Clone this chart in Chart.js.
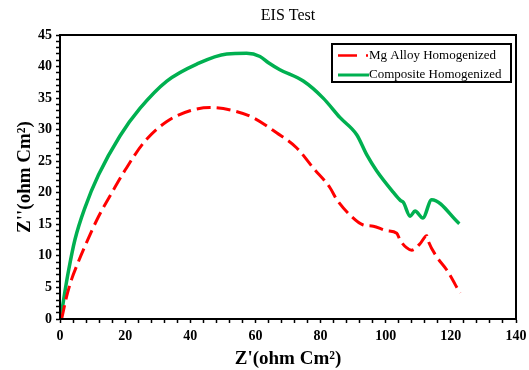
<!DOCTYPE html>
<html>
<head>
<meta charset="utf-8">
<script src="https://cdn.jsdelivr.net/npm/chart.js@4"></script>
<style>
  html, body { margin: 0; padding: 0; background: #fff; }
  #wrap { width: 529px; height: 370px; }
</style>
</head>
<body>
<div id="wrap"><canvas id="eisChart" width="529" height="370"></canvas></div>
<script>
// Nyquist data
const alloyLabel = "Mg Alloy Homogenized";
const alloyX = [0.5, 2.0, 3.5, 5.5, 7.7, 11.8, 15.9, 20.0, 25.8, 32.8, 39.9, 46.1, 53.2, 59.3, 66.5, 72.7, 77.8, 82.9, 85.0, 89.0, 93.1, 96.2, 100.3, 103.4, 104.4, 106.4, 108.0, 110.5, 112.6, 113.1, 115.6, 118.7, 122.8];
const alloyY = [0, 3.5, 6.2, 8.9, 11.6, 16.2, 20.0, 23.6, 28.0, 31.3, 33.0, 33.5, 33.0, 31.9, 29.5, 27.1, 23.9, 20.8, 18.9, 16.5, 14.9, 14.7, 14.0, 13.6, 12.5, 11.3, 10.9, 11.9, 13.2, 12.3, 9.9, 7.8, 4.1];

const compLabel = "Composite Homogenized";
const compX = [0.2, 1.4, 2.6, 4.6, 7.7, 11.8, 18.4, 24.6, 32.8, 42.0, 51.2, 57.3, 61.4, 64.0, 67.5, 74.7, 80.8, 86.0, 91.1, 94.2, 97.2, 102.3, 104.5, 105.4, 107.5, 109.0, 111.4, 114.1, 122.6];
const compY = [0, 4.0, 7.6, 12.6, 17.7, 22.8, 29.0, 33.4, 37.7, 40.4, 42.0, 42.1, 41.6, 40.6, 39.5, 37.7, 35.0, 31.9, 29.2, 26.0, 23.5, 20.1, 18.8, 18.5, 16.3, 17.1, 16.0, 18.9, 15.1];

const xMajorTicks = [0, 20, 40, 60, 80, 100, 120, 140];
const yMajorTicks = [0, 5, 10, 15, 20, 25, 30, 35, 40, 45];
const xMinorStep = 4;
const yMinorStep = 1;

const SERIF = "'Liberation Serif', 'Times New Roman', serif";

function minorTicks(majors, step) {
  const out = [];
  const lo = majors[0], hi = majors[majors.length - 1];
  for (let v = lo; v <= hi + 1e-9; v += step) out.push({ value: Math.round(v * 100) / 100 });
  return out;
}

function toPoints(xs, ys) {
  return xs.map((x, i) => ({ x: x, y: ys[i] }));
}

// box around the plot, title above it and the framed legend inside it
const framePlugin = {
  id: "frame",
  afterDraw(chart) {
    const { ctx, chartArea: a } = chart;
    ctx.save();
    ctx.strokeStyle = "#000";
    ctx.lineWidth = 2;
    ctx.strokeRect(a.left, a.top, a.right - a.left, a.bottom - a.top);

    // title
    ctx.fillStyle = "#000";
    ctx.font = "16px " + SERIF;
    ctx.textAlign = "center";
    ctx.textBaseline = "middle";
    ctx.fillText("EIS Test", (a.left + a.right) / 2, 16);

    // legend
    const bx = a.right - 184, by = a.top + 9, bw = 179, bh = 38;
    ctx.fillStyle = "#fff";
    ctx.fillRect(bx, by, bw, bh);
    ctx.lineWidth = 2;
    ctx.strokeRect(bx, by, bw, bh);

    const ds = chart.data.datasets;
    ctx.font = "13px " + SERIF;
    ctx.textAlign = "left";
    ctx.fillStyle = "#000";

    // red dashed sample: one dash and a dot
    let y1 = by + 11.5;
    ctx.strokeStyle = ds[0].borderColor;
    ctx.lineWidth = 2.5;
    ctx.setLineDash([19, 9]);
    ctx.beginPath();
    ctx.moveTo(bx + 6, y1);
    ctx.lineTo(bx + 36, y1);
    ctx.stroke();
    ctx.setLineDash([]);
    ctx.fillText(ds[0].label, bx + 37, y1);

    let y2 = by + 31;
    ctx.strokeStyle = ds[1].borderColor;
    ctx.lineWidth = 3;
    ctx.beginPath();
    ctx.moveTo(bx + 6, y2);
    ctx.lineTo(bx + 37, y2);
    ctx.stroke();
    ctx.fillText(ds[1].label, bx + 37, y2);
    ctx.restore();
  }
};

document.addEventListener("DOMContentLoaded", () => {
  const ctx = document.getElementById("eisChart").getContext("2d");

  const chartData = {
    datasets: [
      {
        label: alloyLabel,
        data: toPoints(alloyX, alloyY),
        borderColor: "#FF0000",
        backgroundColor: "#FF0000",
        borderWidth: 3,
        borderDash: [14, 6],
        showLine: true,
        pointRadius: 0,
        cubicInterpolationMode: "monotone",
        fill: false,
      },
      {
        label: compLabel,
        data: toPoints(compX, compY),
        borderColor: "#00B050",
        backgroundColor: "#00B050",
        borderWidth: 3.5,
        showLine: true,
        pointRadius: 0,
        cubicInterpolationMode: "monotone",
        fill: false,
      },
    ],
  };

  const tickFont = { family: SERIF, size: 14, weight: "bold" };
  const titleFont = { family: SERIF, size: 19, weight: "bold" };

  const config = {
    type: "scatter",
    data: chartData,
    options: {
      responsive: false,
      animation: false,
      layout: { padding: { top: 35, right: 13, left: 14, bottom: 0 } },
      plugins: {
        legend: { display: false },
        title: { display: false },
        tooltip: { enabled: false },
      },
      scales: {
        x: {
          type: "linear",
          min: 0,
          max: 140,
          afterBuildTicks: axis => { axis.ticks = minorTicks(xMajorTicks, xMinorStep); },
          afterFit: scale => {
            scale.height = 51;
            scale.paddingLeft = 0;
            scale.paddingRight = 0;
          },
          ticks: {
            autoSkip: false,
            maxRotation: 0,
            color: "#000",
            font: tickFont,
            padding: 5,
            callback: v => (xMajorTicks.includes(v) ? v : ""),
          },
          grid: { drawOnChartArea: false, drawTicks: true, tickLength: 4, tickColor: "#000", tickWidth: 1.5 },
          border: { color: "#000", width: 2 },
          title: { display: true, text: "Z'(ohm Cm²)", color: "#000", font: titleFont, padding: { top: 0, bottom: 0 } },
        },
        y: {
          type: "linear",
          min: 0,
          max: 45,
          afterBuildTicks: axis => { axis.ticks = minorTicks(yMajorTicks, yMinorStep); },
          afterFit: scale => { scale.width = 46; },
          ticks: {
            autoSkip: false,
            color: "#000",
            font: tickFont,
            padding: 4,
            callback: v => (yMajorTicks.includes(v) ? v : ""),
          },
          grid: { drawOnChartArea: false, drawTicks: true, tickLength: 4, tickColor: "#000", tickWidth: 1.5 },
          border: { color: "#000", width: 2 },
          title: { display: true, text: "Z''(ohm Cm²)", color: "#000", font: titleFont, padding: { top: 0, bottom: 0 } },
        },
      },
    },
    plugins: [framePlugin],
  };

  new Chart(ctx, config);
});
</script>
</body>
</html>
